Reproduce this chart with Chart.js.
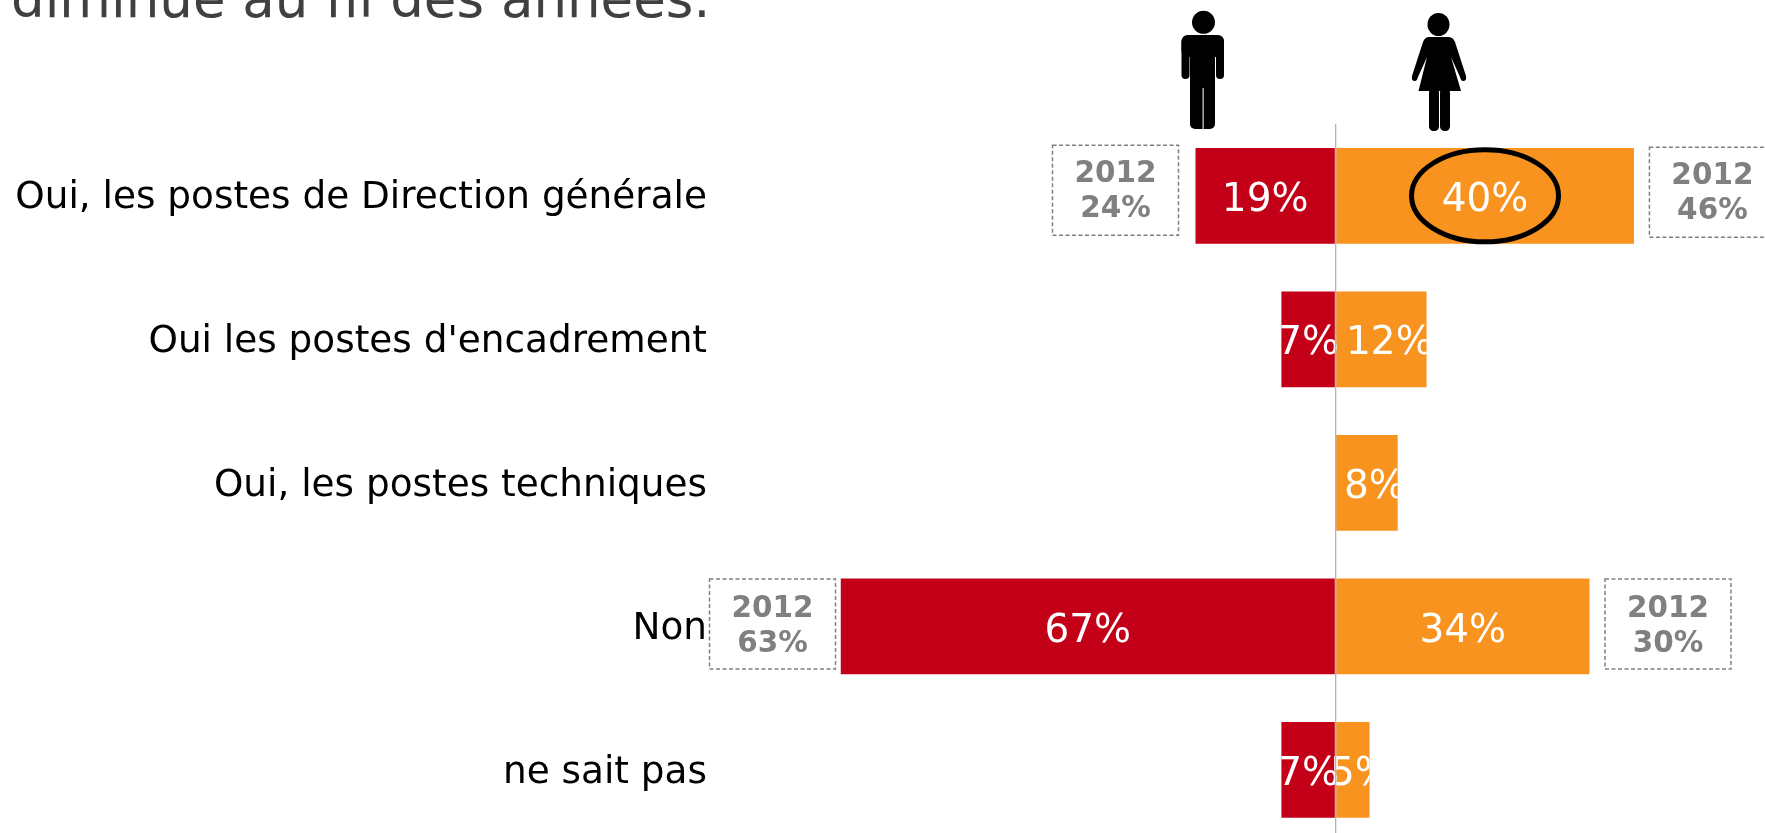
<!DOCTYPE html>
<html><head><meta charset="utf-8">
<style>html,body{margin:0;padding:0;background:#fff;width:1765px;height:833px;overflow:hidden}
#w{position:relative;width:1765px;height:833px;overflow:hidden}
canvas{position:absolute;left:0;top:0}
svg{position:absolute;left:0;top:0}</style>
<script src="https://cdn.jsdelivr.net/npm/chart.js@4"></script></head>
<body><div id="w"><canvas id="c" width="1765" height="878"></canvas>
<svg width="1765" height="140" fill="#000">
<ellipse cx="1203.5" cy="22.3" rx="11.5" ry="11.5"/>
<rect x="1181.5" y="35" width="42.5" height="22" rx="6"/>
<rect x="1181.5" y="38" width="8" height="41" rx="4"/>
<rect x="1216" y="38" width="8" height="41" rx="4"/>
<rect x="1190" y="38" width="25" height="91" rx="5"/>
<rect x="1202.6" y="88" width="1" height="42" fill="#fff"/>
<ellipse cx="1438.5" cy="24.5" rx="11" ry="11.5"/>
<path d="M1429 37H1448Q1453 37 1455 42L1466 76Q1467 81 1463 81Q1461 81 1460 77L1451 57L1461 91H1418.5L1427 57L1418 77Q1417 81 1415 81Q1411 81 1412 76L1423 42Q1425 37 1429 37Z"/>
<rect x="1429" y="88" width="10" height="43" rx="4.5"/>
<rect x="1440" y="88" width="10" height="43" rx="4.5"/>
</svg></div>
<script>
const categories = ["Oui, les postes de Direction générale","Oui les postes d'encadrement","Oui, les postes techniques","Non","ne sait pas"];
const hommes = [18.9, 7.3, null, 66.8, 7.3];
const femmes = [40.3, 12.3, 8.4, 34.3, 4.6];
const hommes2012 = [24, null, null, 63, null];
const femmes2012 = [46, null, null, 30, null];
const circled = 0;
const titleText = "diminue au fil des années.";
const RED="#C40018", ORANGE="#F7931E", GREY="#808080";
const FONT='"DejaVu Sans"';

const overlay = {
  id:'overlay',
  afterDatasetsDraw(chart){
    const ctx=chart.ctx, m0=chart.getDatasetMeta(0), m1=chart.getDatasetMeta(1);
    ctx.save();
    ctx.textAlign='center'; ctx.textBaseline='middle'; ctx.fillStyle='#fff';
    ctx.font='39px '+FONT;
    [[m0,hommes,-1],[m1,femmes,1]].forEach(([meta,vals,side])=>{
      meta.data.forEach((el,i)=>{
        if(vals[i]==null) return;
        const w=Math.abs(el.x-el.base), cx=(el.x+el.base)/2;
        ctx.save();ctx.beginPath();
        if(side<0) ctx.rect(el.x,el.y-60,400+w,120); else ctx.rect(el.base-400,el.y-60,400+w,120);
        ctx.clip();
        ctx.fillText(Math.round(vals[i])+'%', cx+(side>0&&w<100?8:0), el.y+5);
        ctx.restore();
      });
    });
    const h=m1.data[circled];
    ctx.beginPath();ctx.ellipse((h.x+h.base)/2,h.y,73.5,46,0,0,Math.PI*2);
    ctx.lineWidth=5;ctx.strokeStyle='#000';ctx.stroke();
    const box=(x,y,val,tdy)=>{
      ctx.setLineDash([4,2.5]);ctx.lineWidth=1.5;ctx.strokeStyle=GREY;
      ctx.strokeRect(x+.5,y+.5,126,90);ctx.setLineDash([]);
      ctx.fillStyle=GREY;ctx.font='bold 29.5px '+FONT;ctx.textAlign='center';ctx.textBaseline='middle';
      ctx.fillText('2012',x+63.5,y+tdy);ctx.fillText(val+'%',x+63.5,y+tdy+35);
    };
    hommes2012.forEach((v,i)=>{ if(v==null)return; const e=m0.data[i]; box(Math.max(e.x-16.5-127,709),e.y-(i===0?51:48),v,i===0?30:31);});
    femmes2012.forEach((v,i)=>{ if(v==null)return; const e=m1.data[i]; box(e.x+15,e.y-(i===0?49:48),v,i===0?30:31);});
    ctx.fillStyle='#404040';ctx.font='53px '+FONT;ctx.textAlign='left';ctx.textBaseline='alphabetic';
    ctx.fillText(titleText,11,17);
    ctx.restore();
  }
};

new Chart(document.getElementById('c'),{
  type:'bar',
  data:{labels:categories,datasets:[
    {label:'Hommes',data:hommes.map(v=>v==null?null:-v),backgroundColor:RED},
    {label:'Femmes',data:femmes,backgroundColor:ORANGE}
  ]},
  options:{
    indexAxis:'y',responsive:false,animation:false,
    layout:{padding:{top:124,bottom:5,left:0,right:0}},
    datasets:{bar:{barPercentage:1,categoryPercentage:0.667}},
    plugins:{legend:{display:false},tooltip:{enabled:false},title:{display:false}},
    scales:{
      x:{stacked:true,min:-83,max:58,
         afterFit(s){s.height=0;},
         border:{display:false},
         ticks:{display:false,stepSize:10},
         grid:{z:1,drawTicks:false,lineWidth:1.3,color:c=>c.tick&&c.tick.value===0?'#B3B3B3':'rgba(0,0,0,0)'}},
      y:{stacked:true,
         afterFit(s){s.width=720.8;},
         border:{display:false},
         grid:{display:false,drawTicks:false},
         ticks:{color:'#000',padding:13.8,labelOffset:3,autoSkip:false,font:{family:FONT,size:37.4}}}
    }
  },
  plugins:[overlay]
});
</script></body></html>
